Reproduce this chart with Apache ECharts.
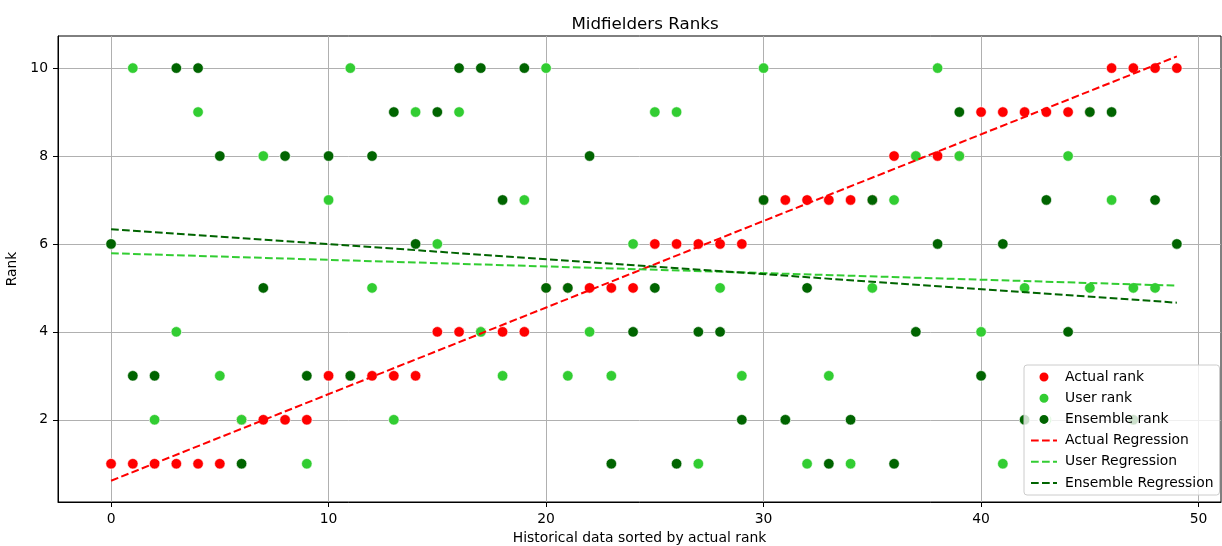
<!DOCTYPE html>
<html>
<head>
<meta charset="utf-8">
<script src="https://cdn.jsdelivr.net/npm/echarts@6/dist/echarts.min.js"></script>
<style>
  html, body { margin: 0; padding: 0; background: #fff; }
  #chart { width: 1222px; height: 546px; }
</style>
</head>
<body>
<div id="chart"></div>
<script>
// Historical matches, index 0..49, sorted by actual rank
const matchIndex = Array.from({ length: 50 }, (_, i) => i);

const actualRank = [
  1, 1, 1, 1, 1, 1, 2, 2, 2, 2,
  3, 3, 3, 3, 3, 4, 4, 4, 4, 4,
  5, 5, 5, 5, 5, 6, 6, 6, 6, 6,
  7, 7, 7, 7, 7, 7, 8, 8, 8, 8,
  9, 9, 9, 9, 9, 9, 10, 10, 10, 10
];

const userRank = [
  6, 10, 2, 4, 9, 3, 2, 8, 8, 1,
  7, 10, 5, 2, 9, 6, 9, 4, 3, 7,
  10, 3, 4, 3, 6, 9, 9, 1, 5, 3,
  10, 2, 1, 3, 1, 5, 7, 8, 10, 8,
  4, 1, 5, 2, 8, 5, 7, 5, 5, 6
];

const ensembleRank = [
  6, 3, 3, 10, 10, 8, 1, 5, 8, 3,
  8, 3, 8, 9, 6, 9, 10, 10, 7, 10,
  5, 5, 8, 1, 4, 5, 1, 4, 4, 2,
  7, 2, 5, 1, 2, 7, 1, 4, 6, 9,
  3, 6, 2, 7, 4, 9, 9, 2, 7, 6
];

const xTicks = [0, 10, 20, 30, 40, 50];
const yTicks = [2, 4, 6, 8, 10];

const RED = '#ff0000';
const LIME = '#32cd32';
const DARK = '#006400';

// Least-squares line through (x, y), returned as its two end points
function fitLine(xs, ys) {
  const n = xs.length;
  const mx = xs.reduce((a, b) => a + b, 0) / n;
  const my = ys.reduce((a, b) => a + b, 0) / n;
  let sxy = 0, sxx = 0;
  for (let i = 0; i < n; i++) {
    sxy += (xs[i] - mx) * (ys[i] - my);
    sxx += (xs[i] - mx) * (xs[i] - mx);
  }
  const slope = sxy / sxx;
  const icpt = my - slope * mx;
  const x0 = xs[0], x1 = xs[n - 1];
  return [[x0, icpt + slope * x0], [x1, icpt + slope * x1]];
}

const pairs = ys => matchIndex.map((x, i) => [x, ys[i]]);

const font = 'DejaVu Sans';
const FS = 13.9;

function scatter(name, ys, color) {
  return {
    name, type: 'scatter', data: pairs(ys), symbolSize: 10.5,
    itemStyle: { color, borderColor: '#ffffff', borderWidth: 0.6, opacity: 1 },
    emphasis: { disabled: true }
  };
}

function regression(name, ys, color) {
  return {
    name, type: 'line', data: fitLine(matchIndex, ys),
    symbol: 'none', showSymbol: false,
    lineStyle: { color, width: 2, type: [7.7, 3.3] },
    itemStyle: { color },
    emphasis: { disabled: true }, z: 3
  };
}

// Regression entries in the legend show only their dashed stroke
const lineKey = name => ({ name, icon: 'inherit', itemStyle: { opacity: 0 } });

const chart = echarts.init(document.getElementById('chart'), null, { renderer: 'canvas' });

chart.setOption({
  animation: false,
  backgroundColor: '#ffffff',
  title: {
    text: 'Midfielders Ranks', left: 640, top: 11, textAlign: 'center',
    textStyle: { fontFamily: font, fontSize: 16.7, fontWeight: 'normal', color: '#000' }
  },
  grid: {
    left: 58, top: 36, right: 1, bottom: 44,
    outerBoundsMode: 'none',
    show: true, borderColor: '#000', borderWidth: 1, backgroundColor: 'transparent'
  },
  legend: {
    orient: 'vertical', left: 1024, top: 365,
    itemWidth: 26, itemHeight: 11, itemGap: 7.2,
    padding: [5, 6, 5, 6],
    backgroundColor: 'rgba(255,255,255,0.8)',
    borderColor: '#cccccc', borderWidth: 1, borderRadius: 3,
    textStyle: { fontFamily: font, fontSize: FS, lineHeight: 14, color: '#000', padding: [0, 0, 0, 3] },
    data: [
      { name: 'Actual rank', icon: 'circle' },
      { name: 'User rank', icon: 'circle' },
      { name: 'Ensemble rank', icon: 'circle' },
      lineKey('Actual Regression'),
      lineKey('User Regression'),
      lineKey('Ensemble Regression')
    ]
  },
  xAxis: {
    type: 'value', min: -2.44, max: 51.03,
    name: 'Historical data sorted by actual rank',
    nameLocation: 'middle', nameGap: 29,
    nameTextStyle: { fontFamily: font, fontSize: FS, color: '#000' },
    axisLine: { show: true, onZero: false, lineStyle: { color: '#000', width: 1 } },
    axisTick: { show: true, length: 5, lineStyle: { color: '#000' }, customValues: xTicks },
    axisLabel: { fontFamily: font, fontSize: FS, color: '#000', margin: 10, customValues: xTicks },
    splitLine: { show: true, lineStyle: { color: '#b0b0b0', width: 1 } }
  },
  yAxis: {
    type: 'value', min: 0.13, max: 10.73,
    name: 'Rank', nameLocation: 'middle', nameGap: 29, nameRotate: 90,
    nameTextStyle: { fontFamily: font, fontSize: FS, color: '#000' },
    axisLine: { show: true, onZero: false, lineStyle: { color: '#000', width: 1 } },
    axisTick: { show: true, length: 5, lineStyle: { color: '#000' }, customValues: yTicks },
    axisLabel: { fontFamily: font, fontSize: FS, color: '#000', margin: 10, customValues: yTicks },
    splitLine: { show: true, lineStyle: { color: '#b0b0b0', width: 1 } }
  },
  series: [
    scatter('Actual rank', actualRank, RED),
    scatter('User rank', userRank, LIME),
    scatter('Ensemble rank', ensembleRank, DARK),
    regression('Actual Regression', actualRank, RED),
    regression('User Regression', userRank, LIME),
    regression('Ensemble Regression', ensembleRank, DARK)
  ]
});
</script>
</body>
</html>
